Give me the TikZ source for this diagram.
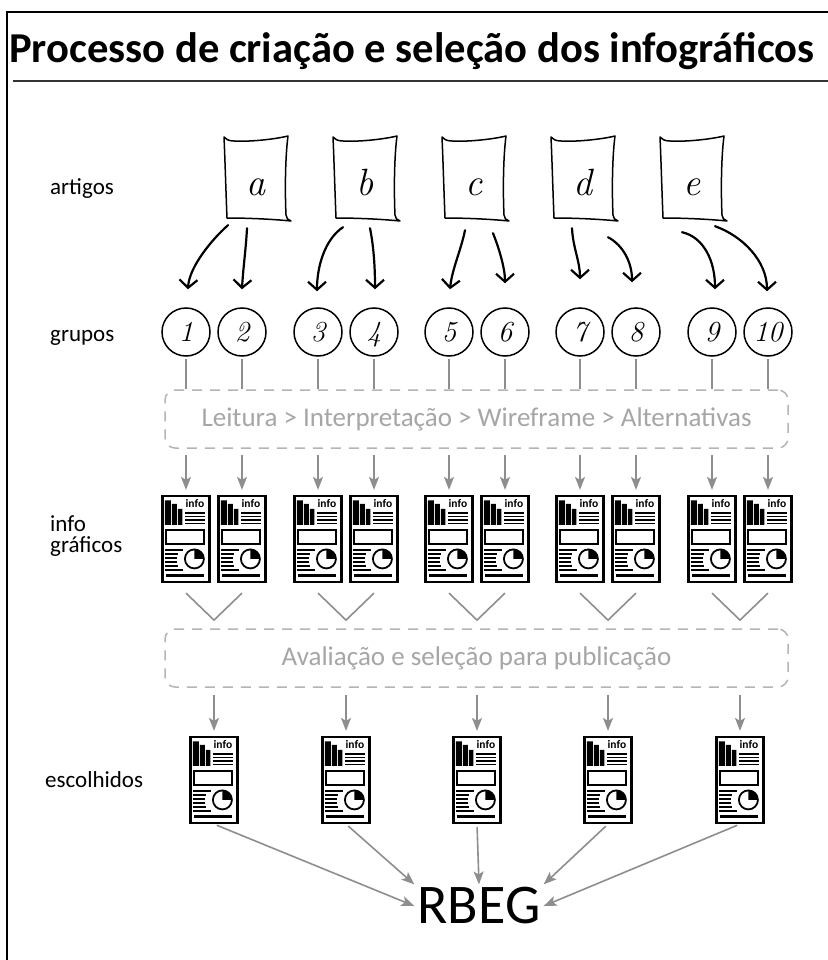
\documentclass[tikz,border=0pt]{standalone}
\usepackage{fontspec}
\newfontfamily\sansc{Carlito}
\usetikzlibrary{arrows.meta,calc}

\definecolor{boxgray}{HTML}{B4B4B4}
\definecolor{txtgray}{HTML}{A6A6A6}
\definecolor{linegray}{HTML}{8E8E8E}

\begin{document}
\begin{tikzpicture}[x=1pt, y=-1pt,
  lab/.style={font=\sansc\fontsize{23}{21}\selectfont, inner sep=0pt, align=left},
  art/.style={minimum width=64pt, minimum height=84pt, inner sep=0pt,
              text height=32pt, text depth=0pt, font=\itshape\fontsize{38}{38}\selectfont},
  paper/.style={line width=1.5pt, line join=round},
  grp/.style={circle, draw, line width=1.5pt, minimum size=48pt, inner sep=0pt,
              text height=19pt, text depth=0pt, font=\itshape\fontsize{29}{29}\selectfont},
  hand/.style={line width=2.2pt, line cap=round, -{Straight Barb[length=8pt,width=18pt]}},
  dbox/.style={draw=boxgray, line width=1.5pt, dash pattern=on 10pt off 8pt,
               rounded corners=10pt, minimum width=623pt, minimum height=58pt,
               text=txtgray, font=\sansc\fontsize{27}{27}\selectfont},
  sheet/.style={draw, line width=2.2pt, fill=white, minimum width=47pt,
                minimum height=86pt, inner sep=0pt},
  gline/.style={draw=linegray, line width=1.6pt},
  garr/.style={gline, -{Stealth[length=13pt,width=10pt,inset=3pt]}},
  % contents of one sheet, from its top left corner
  pics/infosheet/.style={code={
    \fill (3.5,5.5) rectangle (9.5,30) (10.5,9) rectangle (15.5,30) (16.5,14) rectangle (21,30);
    \node[font=\sansc\bfseries\fontsize{11.5}{11.5}\selectfont, inner sep=0pt] at (33.5,9) {info};
    \foreach \yy in {18,21.5,25,28.5}
      \draw[line width=1.2pt] (24,\yy) -- (44,\yy);
    \draw[line width=1.8pt] (4.5,35) rectangle (42.5,49);
    \foreach \yy/\ll in {55/22,59/17,63/15.5,67/15.5,71/17,75/22}
      \draw[line width=1.3pt] (3.5,\yy) -- (\ll,\yy);
    \fill (33,64) -- (33,54.5) arc[start angle=-90, end angle=0, radius=9.5] -- cycle;
    \draw[line width=1.8pt] (33,64) circle[radius=9.5];
    \draw[line width=2.4pt] (4.5,80.5) -- (42.5,80.5);
  }},
]
  \useasboundingbox (0,0) rectangle (827,960);
  \fill[white] (0,0) rectangle (827,960);
  \draw[line width=2pt] (7,980) -- (7,12) -- (840,12);

  \node[font=\sansc\bfseries\fontsize{42.6}{42.6}\selectfont, anchor=base west, inner sep=0pt]
    (title) at (9,63) {Processo de criação e seleção dos infográficos};
  \draw[line width=1.5pt, black!80] (13,81) -- (830,81);

  % row labels
  \node[lab, anchor=base west] (l-art) at (50,194) {artigos};
  \node[lab, anchor=base west] (l-grp) at (50,341) {grupos};
  \node[lab, anchor=west] (l-inf) at (50,536) {info\\gráficos};
  \node[lab, anchor=base west] (l-esc) at (45,787) {escolhidos};

  % articles
  \foreach \lt/\xx in {a/256,b/365,c/474,d/583,e/692}{
    \node[art] (art-\lt) at (\xx,179) {\lt};
    \draw[paper, shift={(art-\lt.center)}] (-32,-42) .. controls (-30,-40) and (-28,-38) .. (-22,-38)
      .. controls (-5,-37) and (20,-40) .. (32,-43)
      .. controls (29,-20) and (29,15) .. (30,36)
      .. controls (30,39) and (32,41) .. (35,42)
      .. controls (15,40) and (-10,39) .. (-29,39)
      .. controls (-30,15) and (-31,-20) .. (-32,-42) -- cycle;
  }

  % groups and their infographics
  \foreach \i/\xx in {1/186,2/242,3/318,4/374,5/449,6/505,7/580,8/636,9/712,10/768}{
    \node[grp] (g\i) at (\xx,332) {\i};
    \node[sheet] (ig\i) at (\xx,539) {};
    \pic at (ig\i.north west) {infosheet};
  }

  \node[dbox] (lei) at (476.5,419) {Leitura > Interpretação > Wireframe > Alternativas};
  \node[dbox] (sel) at (476.5,658) {Avaliação e seleção para publicação};

  \draw[hand] ([shift={(-28,4)}]art-a.south) .. controls +(-16,14) and +(1,-22) .. ([shift={(2,-18)}]g1.north);
  \draw[hand] ([shift={(-9,7)}]art-a.south) .. controls +(-1,20) and +(1,-20) .. ([shift={(0,-18)}]g2.north);
  \draw[hand] ([shift={(-22,6)}]art-b.south) .. controls +(-18,12) and +(0,-25) .. ([shift={(-1,-16)}]g3.north);
  \draw[hand] ([shift={(5,7)}]art-b.south) .. controls +(4,20) and +(0,-20) .. ([shift={(1,-18)}]g4.north);
  \draw[hand] ([shift={(-9,9)}]art-c.south) .. controls +(-4,20) and +(2,-20) .. ([shift={(1,-18)}]g5.north);
  \draw[hand] ([shift={(19,12)}]art-c.south) .. controls +(6,15) and +(0,-15) .. ([shift={(0,-24)}]g6.north);
  \draw[hand] ([shift={(-11,7)}]art-d.south) .. controls +(1,20) and +(0,-18) .. ([shift={(0,-28)}]g7.north);
  \draw[hand] ([shift={(25,16)}]art-d.south) .. controls +(15,8) and +(0,-20) .. ([shift={(-4,-25)}]g8.north);
  \draw[hand] ([shift={(-10,11)}]art-e.south) .. controls +(22,5) and +(0,-28) .. ([shift={(3,-18)}]g9.north);
  \draw[hand] ([shift={(23,5)}]art-e.south) .. controls +(28,10) and +(0,-30) .. ([shift={(-1,-16)}]g10.north);

  \foreach \i in {1,...,10}{
    \draw[gline] ([yshift=-2pt]g\i.south) -- (g\i |- lei.north);
    \draw[garr, shorten <=6pt, shorten >=5pt] (ig\i |- lei.south) -- (ig\i.north);
  }

  % pairs meet in the evaluation box
  \foreach \k/\p/\q/\xx in {1/1/2/214,2/3/4/346,3/5/6/477,4/7/8/608,5/9/10/740}{
    \coordinate (v\k) at ($(ig\p.south)!.5!(ig\q.south)+(0,37)$);
    \draw[gline] ([yshift=-10pt]ig\p.south) -- (v\k) -- ([yshift=-10pt]ig\q.south);
    \node[sheet] (ch\k) at (\xx,780) {};
    \pic at (ch\k.north west) {infosheet};
    \draw[garr, shorten <=7pt, shorten >=5pt] (ch\k |- sel.south) -- (ch\k.north);
  }

  \node[font=\sansc\fontsize{56}{56}\selectfont, inner sep=3pt] (rbeg) at (479,906) {RBEG};
  \draw[garr, shorten <=3pt] (ch1.south) -- (rbeg.west);
  \draw[garr, shorten <=3pt] (ch2.south) -- (rbeg.north west);
  \draw[garr, shorten <=3pt] (ch3.south) -- (rbeg.north);
  \draw[garr, shorten <=3pt] (ch4.south) -- (rbeg.north east);
  \draw[garr, shorten <=3pt] (ch5.south) -- (rbeg.east);
\end{tikzpicture}
\end{document}
